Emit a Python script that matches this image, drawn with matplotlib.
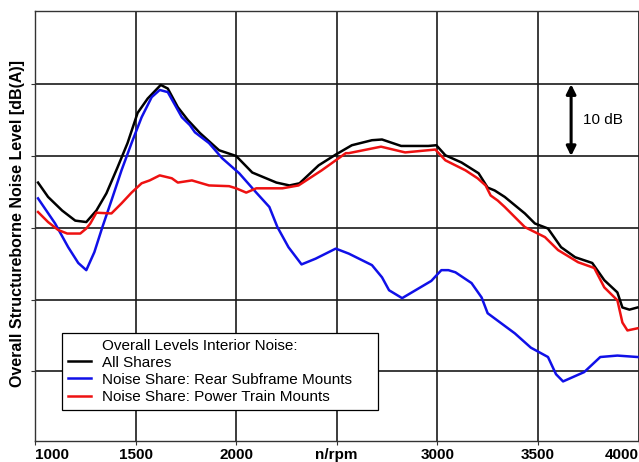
import matplotlib
matplotlib.use("Agg")
import matplotlib.pyplot as plt
from matplotlib.lines import Line2D

plt.rcParams['font.family'] = ['Liberation Sans', 'DejaVu Sans']

# n/rpm and level in dB(A) (gridlines every 10 dB, absolute values not shown)
rpm_all = [1015, 1065, 1135, 1200, 1255, 1305, 1355, 1410, 1460, 1510, 1560, 1625, 1660,
           1710, 1760, 1820, 1915, 2000, 2080, 2200, 2265, 2315, 2410, 2495, 2575, 2675,
           2725, 2820, 2955, 2995, 3040, 3120, 3205, 3250, 3285, 3335, 3435, 3485, 3550,
           3615, 3685, 3770, 3830, 3895, 3920, 3955, 3995]
db_all = [66.3, 64.3, 62.4, 61.0, 60.8, 62.4, 64.8, 68.4, 71.8, 76.0, 78.0, 79.9, 79.4,
          76.8, 75.0, 73.2, 70.8, 70.0, 67.7, 66.3, 65.9, 66.2, 68.7, 70.2, 71.5, 72.2,
          72.3, 71.4, 71.4, 71.5, 70.1, 69.1, 67.6, 65.6, 65.2, 64.3, 62.0, 60.6, 59.9,
          57.3, 55.9, 55.1, 52.7, 51.0, 48.9, 48.6, 48.9]

rpm_rear = [1015, 1100, 1165, 1215, 1255, 1295, 1335, 1380, 1430, 1480, 1530, 1580, 1620,
            1660, 1730, 1770, 1795, 1865, 1930, 2015, 2100, 2165, 2205, 2260, 2325, 2395,
            2495, 2560, 2675, 2725, 2760, 2825, 2970, 3020, 3055, 3090, 3170, 3220, 3250,
            3385, 3465, 3550, 3590, 3625, 3730, 3810, 3895, 3995]
db_rear = [64.1, 60.6, 57.3, 55.1, 54.1, 56.6, 60.1, 63.8, 68.0, 71.8, 75.4, 78.2, 79.2,
           78.9, 75.4, 74.3, 73.3, 71.8, 69.7, 67.6, 64.9, 62.9, 60.1, 57.3, 54.9, 55.7,
           57.1, 56.4, 54.8, 53.1, 51.3, 50.2, 52.6, 54.1, 54.1, 53.8, 52.3, 50.3, 48.1,
           45.3, 43.3, 42.0, 39.6, 38.6, 39.9, 42.0, 42.2, 42.0]

rpm_power = [1015, 1065, 1115, 1160, 1225, 1255, 1275, 1305, 1380, 1430, 1480, 1530, 1570,
             1620, 1680, 1710, 1780, 1865, 1965, 2000, 2050, 2100, 2230, 2310, 2425, 2545,
             2560, 2720, 2840, 2990, 3040, 3140, 3200, 3240, 3265, 3300, 3335, 3435, 3535,
             3600, 3700, 3780, 3830, 3895, 3920, 3945, 3995]
db_power = [62.2, 60.8, 59.7, 59.2, 59.2, 59.9, 60.6, 62.1, 62.0, 63.4, 64.9, 66.2, 66.6,
            67.3, 66.9, 66.3, 66.6, 65.9, 65.8, 65.5, 64.9, 65.5, 65.5, 65.9, 68.0, 70.4,
            70.4, 71.3, 70.5, 70.9, 69.4, 68.0, 66.9, 65.9, 64.5, 63.8, 62.9, 60.1, 58.7,
            56.9, 55.2, 54.4, 51.7, 49.9, 46.8, 45.7, 46.0]

xticks = [1000, 1500, 2000, 2500, 3000, 3500, 4000]
xlabels = ['1000', '1500', '2000', 'n/rpm', '3000', '3500', '4000']
ygrid = [40, 50, 60, 70, 80]

fig = plt.figure(figsize=(6.39, 4.62), dpi=100)
ax = fig.add_axes([35 / 639, 21 / 462, 603.5 / 639, 430 / 462])

ax.plot(rpm_all, db_all, color='black', lw=1.8, zorder=3)
ax.plot(rpm_rear, db_rear, color='#1010e8', lw=1.8, zorder=3)
ax.plot(rpm_power, db_power, color='#ee1111', lw=1.8, zorder=3)

ax.set_xlim(1000, 4000)
ax.set_ylim(30.3, 90.2)
ax.set_xticks(xticks)
ax.set_xticklabels(xlabels, fontweight='bold', fontsize=11)
ax.set_yticks(ygrid)
ax.set_yticklabels([])
ax.tick_params(axis='both', length=3, width=0.8, color='#333333')
ax.tick_params(axis='x', pad=2)
labs = ax.get_xticklabels()
labs[0].set_horizontalalignment('left')
labs[-1].set_horizontalalignment('right')
ax.grid(True, color='#1a1a1a', lw=1.2)
for s in ax.spines.values():
    s.set_color('#333333')
    s.set_linewidth(1.0)

ax.set_ylabel('Overall Structureborne Noise Level [dB(A)]', fontweight='bold', fontsize=11.5)
ax.yaxis.set_label_coords(-10 / 603.5, 0.505)

# 10 dB scale arrow
ax.annotate('', xy=(3665, 80), xytext=(3665, 70),
            arrowprops=dict(arrowstyle='<|-|>', color='black', lw=2.2, mutation_scale=14,
                            shrinkA=0, shrinkB=0), zorder=4)
ax.text(3725, 75, '10 dB', fontsize=11, va='center', ha='left')

handles = [Line2D([], [], color='none'),
           Line2D([], [], color='black', lw=1.8),
           Line2D([], [], color='#1010e8', lw=1.8),
           Line2D([], [], color='#ee1111', lw=1.8)]
names = ['Overall Levels Interior Noise:', 'All Shares',
         'Noise Share: Rear Subframe Mounts', 'Noise Share: Power Train Mounts']
leg = ax.legend(handles, names, loc='lower left',
                bbox_to_anchor=(62 / 639, 52 / 462, 316 / 639, 78 / 462), mode='expand',
                bbox_transform=fig.transFigure, borderaxespad=0, fontsize=11,
                frameon=True, fancybox=False, framealpha=1, edgecolor='black',
                handlelength=1.5, handletextpad=0.75, labelspacing=0.2,
                borderpad=0.4)
leg.get_frame().set_linewidth(0.9)
leg.set_zorder(5)

fig.savefig('out.png', dpi=100)
